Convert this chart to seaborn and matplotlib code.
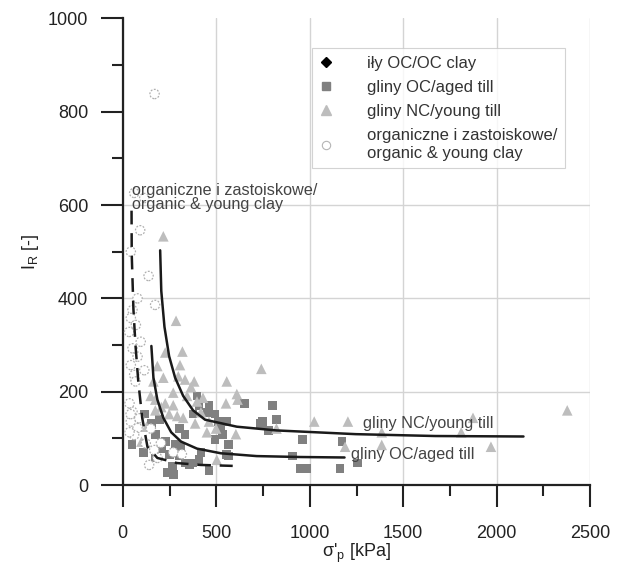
import numpy as np
import pandas as pd
import matplotlib
matplotlib.use("Agg")
import matplotlib.pyplot as plt
from matplotlib.lines import Line2D
from matplotlib.ticker import MultipleLocator
import seaborn as sns

# gliny OC / aged till (kwadraty)
aged_x = [49, 110, 117, 174, 227, 238, 270, 265, 280, 312, 302, 333, 355, 376, 408, 418,
          397, 408, 376, 450, 461, 493, 514, 525, 535, 556, 567, 493, 567, 556, 461, 652,
          737, 748, 801, 822, 780, 907, 960, 950, 981, 1162, 1173, 1257, 206, 195, 302,
          333, 153, 248, 174]
aged_y = [86, 70, 152, 109, 93, 27, 23, 39, 86, 82, 62, 47, 43, 47, 54, 70,
          191, 171, 152, 156, 171, 152, 136, 121, 109, 136, 86, 97, 62, 66, 31, 175,
          132, 136, 171, 140, 117, 62, 97, 35, 35, 35, 93, 47, 78, 140, 121,
          109, 132, 66, 58]

# gliny NC / young till (trójkąty)
young_x = [217, 285, 319, 227, 306, 185, 297, 333, 382, 217, 164, 365, 149, 174, 227, 270,
           291, 323, 397, 418, 461, 387, 450, 499, 556, 552, 610, 614, 605, 503, 741, 822,
           1024, 1204, 1189, 1385, 1385, 1810, 1873, 1969, 2377, 127, 79, 100, 174, 248,
           206, 270, 344, 429]
young_y = [533, 352, 286, 284, 257, 255, 233, 226, 222, 230, 222, 210, 191, 183, 175, 171,
           148, 144, 179, 156, 136, 132, 113, 121, 222, 175, 195, 183, 109, 54, 249, 121,
           136, 136, 82, 113, 86, 113, 144, 82, 160, 125, 125, 93, 160, 152,
           167, 198, 191, 187]

# organiczne i zastoiskowe (kółka)
org_x = [170, 61, 93, 43, 138, 115, 79, 173, 52, 43, 70, 34, 96, 52, 43, 61, 115, 79,
         52, 43, 79, 61, 150, 168, 141, 186, 123, 204, 88, 36, 42, 36, 68, 316, 270]
org_y = [838, 626, 546, 500, 448, 615, 400, 386, 375, 358, 343, 328, 307, 293, 257, 236, 246, 275,
         157, 136, 122, 107, 121, 75, 43, 58, 89, 90, 143, 175, 152, 113, 222, 66, 70]

# krzywe
nc_curve_x = [200, 206, 223, 248, 280, 323, 376, 440, 610, 822, 1247, 1672, 2143]
nc_curve_y = [503, 416, 339, 276, 230, 191, 160, 140, 125, 117, 109, 105, 104]
oc_curve_x = [153, 164, 185, 217, 259, 312, 397, 525, 716, 950, 1186]
oc_curve_y = [298, 230, 183, 144, 113, 93, 78, 68, 62, 60, 59]
org_curve_x = [47, 48, 57, 68, 83, 104, 132, 185, 291, 418, 588]
org_curve_y = [588, 494, 377, 300, 222, 144, 82, 58, 47, 43, 41]

legend_labels = ["iły OC/OC clay", "gliny OC/aged till", "gliny NC/young till",
                 "organiczne i zastoiskowe/\norganic & young clay"]

sns.set_style("white")
plt.rcParams['font.family'] = ['Liberation Sans', 'DejaVu Sans']

fig = plt.figure(figsize=(6.2, 5.69), dpi=100)
ax = fig.add_axes([0.198, 0.1476, 0.754, 0.820])

ax.set_xlim(0, 2500)
ax.set_ylim(0, 1000)

sns.scatterplot(x=aged_x, y=aged_y, marker="s", s=40, color="#808080",
                edgecolor="none", ax=ax, zorder=3)
sns.scatterplot(x=young_x, y=young_y, marker="^", s=58, color="#bdbdbd",
                edgecolor="none", ax=ax, zorder=3)
sns.scatterplot(x=org_x, y=org_y, marker="o", s=45, facecolor="white",
                edgecolor="#b0b0b0", linewidth=0.9, linestyle=(0, (1.5, 1.2)),
                ax=ax, zorder=4)

sns.lineplot(x=nc_curve_x, y=nc_curve_y, sort=False, estimator=None,
             color="#1a1a1a", lw=1.8, ax=ax, zorder=5)
sns.lineplot(x=oc_curve_x, y=oc_curve_y, sort=False, estimator=None,
             color="#1a1a1a", lw=1.8, ax=ax, zorder=5)
sns.lineplot(x=org_curve_x, y=org_curve_y, sort=False, estimator=None,
             color="#1a1a1a", lw=1.8, linestyle=(0, (5.5, 3.5)), ax=ax, zorder=5)

# siatka
ax.xaxis.set_major_locator(MultipleLocator(500))
ax.xaxis.set_minor_locator(MultipleLocator(250))
ax.yaxis.set_major_locator(MultipleLocator(200))
ax.yaxis.set_minor_locator(MultipleLocator(100))
ax.grid(True, which="major", color="#d4d4d4", lw=1.0, zorder=0)
for gl, t in zip(ax.get_ygridlines(), ax.get_yticks()):
    if t >= 800:
        gl.set_visible(False)

for side in ["top", "right"]:
    ax.spines[side].set_visible(False)
for side in ["left", "bottom"]:
    ax.spines[side].set_linewidth(1.6)
    ax.spines[side].set_color("#222222")

ax.tick_params(which="major", direction="out", length=16, width=1.5, color="#222222",
               labelsize=13, labelcolor="#222222")
ax.tick_params(which="minor", direction="out", length=8, width=1.5, color="#222222")
ax.tick_params(axis="x", which="major", pad=13, bottom=True)
ax.tick_params(axis="x", which="minor", bottom=True)
ax.tick_params(axis="y", which="major", pad=9, left=True)
ax.tick_params(axis="y", which="minor", left=True)

ax.set_xlabel("σ'$_\\mathregular{p}$ [kPa]", fontsize=13, color="#222222", labelpad=0)
ax.set_ylabel("I$_\\mathregular{R}$ [-]", fontsize=13, color="#222222", labelpad=5)

# opisy krzywych
ax.text(1285, 132, "gliny NC/young till", fontsize=11.7, color="#444444", va="center", zorder=6)
ax.text(1221, 66, "gliny OC/aged till", fontsize=11.7, color="#444444", va="center", zorder=6)
ax.text(50, 616, "organiczne i zastoiskowe/\norganic & young clay", fontsize=11.7,
        color="#444444", va="center", linespacing=0.95, zorder=6)

handles = [
    Line2D([], [], marker="D", ls="none", color="black", markersize=5),
    Line2D([], [], marker="s", ls="none", color="#808080", markersize=6),
    Line2D([], [], marker="^", ls="none", color="#bdbdbd", markersize=7),
    Line2D([], [], marker="o", ls="none", markerfacecolor="white",
           markeredgecolor="#b5b5b5", markersize=6, markeredgewidth=0.8),
]
leg = ax.legend(handles, legend_labels, loc="upper left", bbox_to_anchor=(0.404, 0.936),
                borderaxespad=0, frameon=True, fancybox=False, fontsize=12,
                handlelength=0.8, handletextpad=2.1, labelspacing=0.55, borderpad=0.45,
                labelcolor="#333333")
for t in leg.get_texts():
    t.set_linespacing(1.2)
leg.get_frame().set_edgecolor("#c8c8c8")
leg.get_frame().set_linewidth(0.8)
leg.set_zorder(7)

fig.savefig("out.png", dpi=100)
